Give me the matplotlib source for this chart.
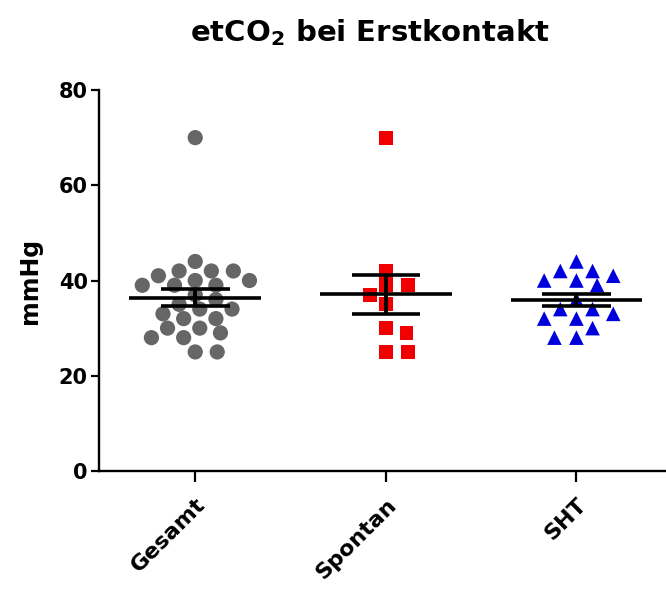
import numpy as np
import matplotlib
matplotlib.use("Agg")
import matplotlib.pyplot as plt

plt.rcParams['font.family'] = ['DejaVu Sans']
plt.rcParams['font.weight'] = 'bold'
plt.rcParams['mathtext.fontset'] = 'dejavusans'
plt.rcParams['mathtext.default'] = 'bf'

# etCO2 values (mmHg) per group
categories = ["Gesamt", "Spontan", "SHT"]
gesamt = [70, 44, 42, 42, 42, 41, 40, 40, 39, 39, 39, 37, 36, 35, 34, 34,
          33, 32, 32, 30, 30, 29, 28, 28, 25, 25]
spontan = [70, 42, 39, 39, 37, 35, 30, 29, 25, 25]
sht = [44, 42, 42, 41, 40, 40, 39, 36, 34, 34, 33, 32, 32, 30, 28, 28]
groups = [gesamt, spontan, sht]
markers = ["o", "s", "^"]
colors = ["#666666", "#f00000", "#0000dd"]
sizes = [120, 100, 110]


def swarm(values, wx, wy, sx, sy):
    """Row-style swarm: x offsets (data units) avoiding an elliptical
    overlap of wx by wy pixels; sx, sy = pixels per data unit."""
    ys = np.asarray(values, float) * sy
    order = np.argsort(-ys, kind="stable")
    placed = []
    offs = np.zeros(len(ys))

    def clear(c, y):
        return all(((c - px) / wx) ** 2 + ((y - py) / wy) ** 2 >= 1 - 1e-6
                   for px, py in placed)

    for i in order:
        y = ys[i]
        cands = [0.0]
        for px, py in placed:
            dy = (y - py) / wy
            if abs(dy) < 1:
                dx = wx * np.sqrt(1 - dy ** 2)
                cands += [px + dx, px - dx]
        cands.sort(key=lambda c: (round(abs(c), 6), -c))
        c = next(c for c in cands if clear(c, y))
        placed.append((c, y))
        offs[i] = c / sx
    return offs


fig = plt.figure(figsize=(6.66, 5.90), dpi=100)
ax = fig.add_axes([0.1486, 0.2017, 0.8514, 0.6457])
ax.set_xlim(-0.505, 2.47)
ax.set_ylim(0, 80)

# pixel scale of the data axes
p0 = ax.transData.transform((0, 0))
p1 = ax.transData.transform((1, 1))
sx, sy = p1[0] - p0[0], p1[1] - p0[1]

for i, vals in enumerate(groups):
    offs = swarm(vals, 22, 14, sx, sy)
    ax.scatter(i + offs, vals, marker=markers[i], s=sizes[i], color=colors[i],
               edgecolors="none", zorder=2, clip_on=False)
    m = np.mean(vals)
    sem = np.std(vals, ddof=1) / np.sqrt(len(vals))
    ax.hlines(m, i - 0.345, i + 0.345, color="black", lw=2.6, zorder=3)
    ax.hlines([m - sem, m + sem], i - 0.18, i + 0.18, color="black", lw=2.6, zorder=3)
    ax.vlines(i, m - sem, m + sem, color="black", lw=2.8, zorder=3)

ax.set_xticks(range(len(categories)))
ax.set_xticklabels(categories, rotation=45, ha="right", va="top",
                   rotation_mode="anchor", fontsize=16, fontweight="bold")
ax.set_yticks([0, 20, 40, 60, 80])
ax.tick_params(axis="y", direction="out", length=6, width=1.6, labelsize=15, pad=2)
ax.tick_params(axis="x", direction="out", length=8, width=1.6, pad=9)
for lab in ax.get_yticklabels():
    lab.set_fontweight("bold")

ax.spines["top"].set_visible(False)
ax.spines["right"].set_visible(False)
ax.spines["left"].set_linewidth(1.7)
ax.spines["bottom"].set_linewidth(1.7)

ax.set_ylabel("mmHg", fontsize=17, fontweight="bold", labelpad=12)
fig.text(0.556, 0.944, "etCO$_2$ bei Erstkontakt", ha="center", va="center",
         fontsize=21, fontweight="bold")

fig.savefig("out.png", dpi=100)
